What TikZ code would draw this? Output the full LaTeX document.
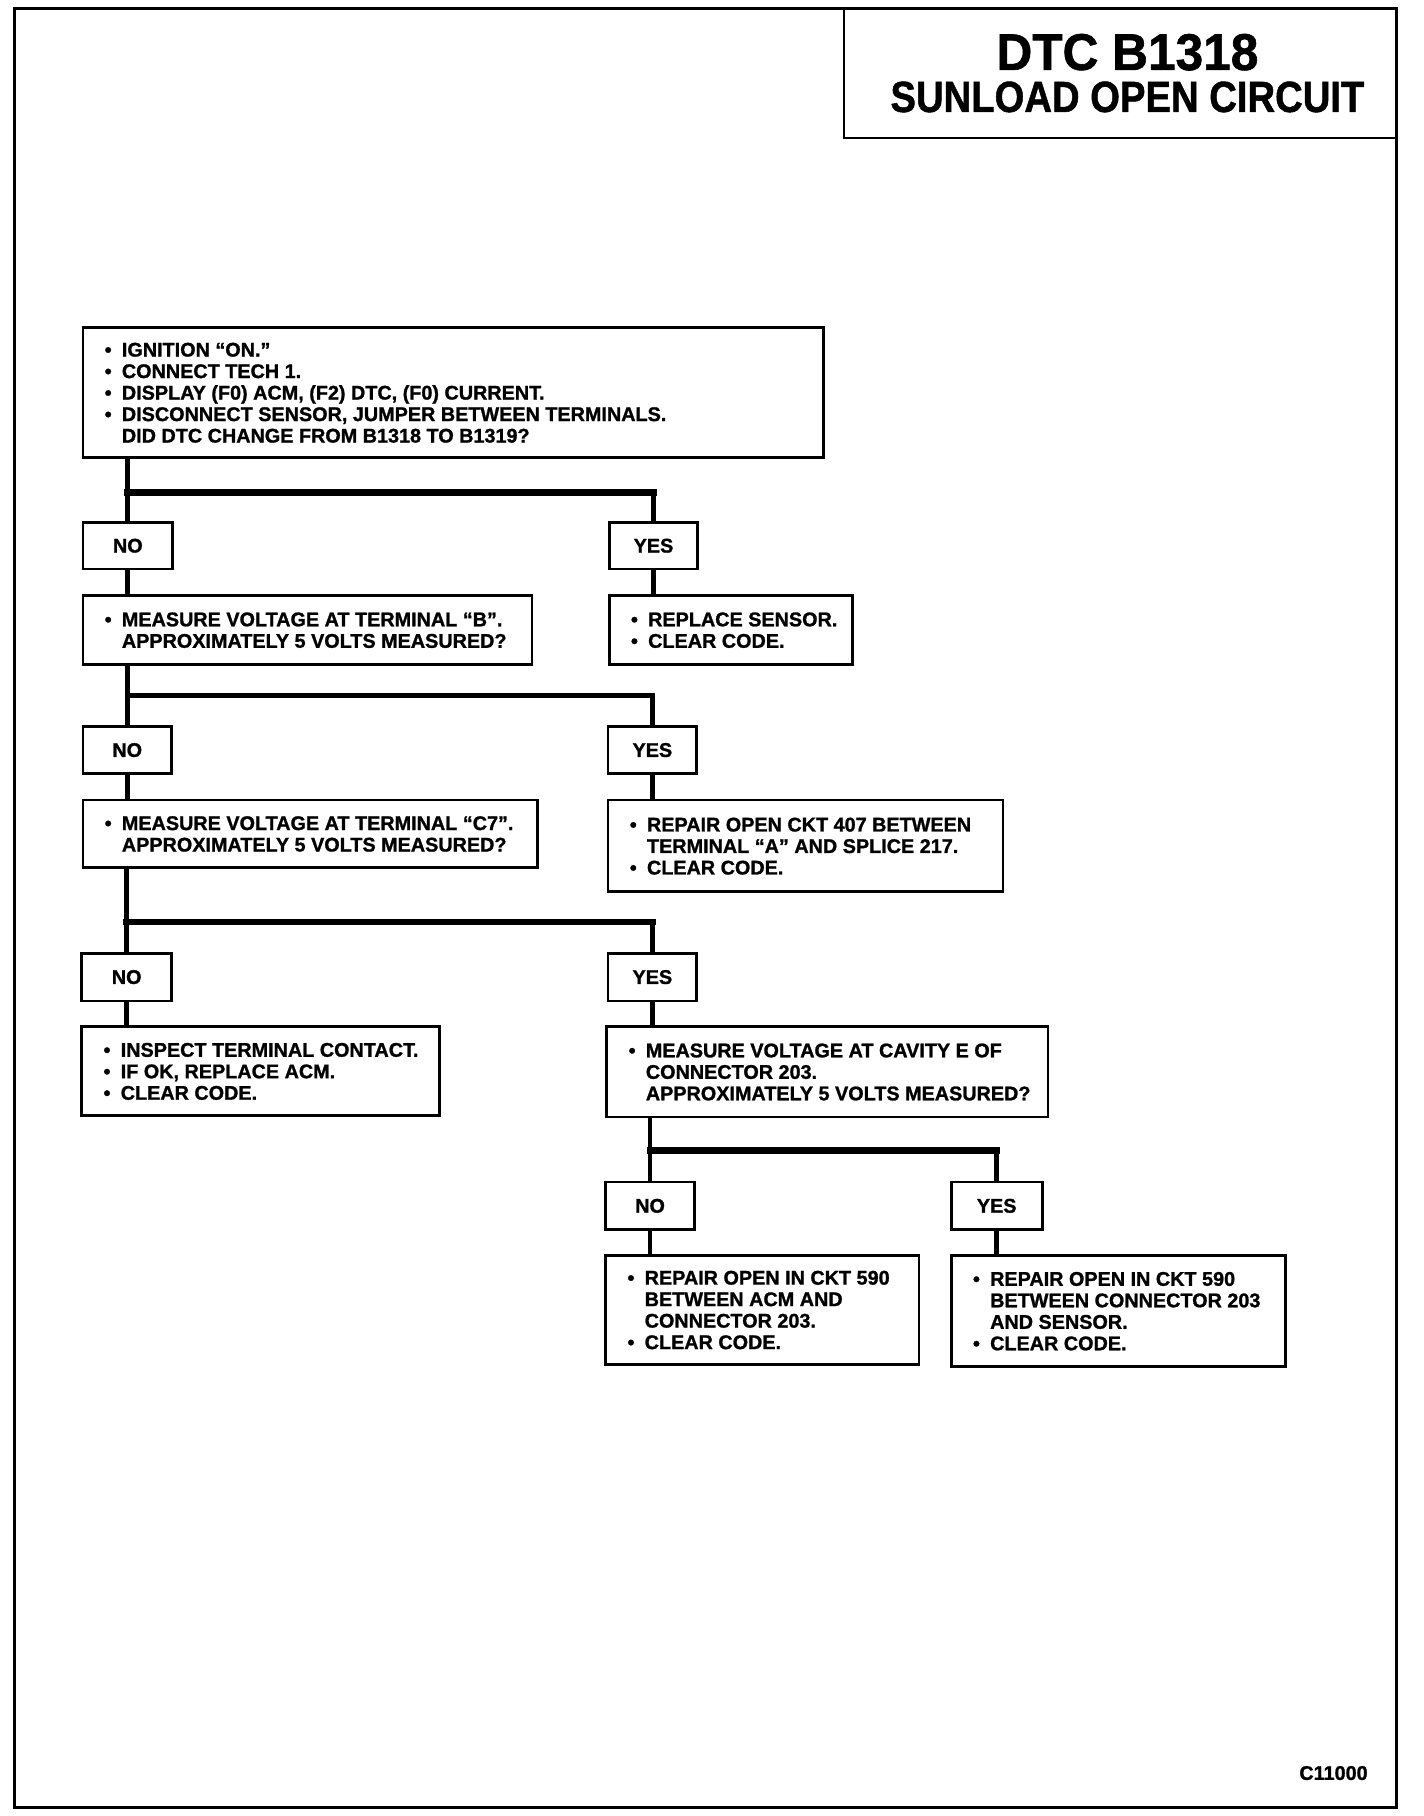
\documentclass[tikz,border=0pt]{standalone}
\usepackage{fontspec}
\setmainfont{Liberation Sans}[BoldFeatures={FakeBold=1.2}]
\usepackage{graphicx}
\newcommand\txtfont{\fontsize{9.9}{10.75}\selectfont\bfseries}
\newcommand\bl{\makebox[8.6pt][l]{•}}
\newcommand\ct{\hspace*{8.6pt}}
\tikzset{
  bx/.style n args={4}{minimum width={(#3-#1)*0.57585pt}, minimum height={(#4-#2)*0.58065pt}, at={({(#1+#3)/2},{(#2+#4)/2})}},
  box/.style={draw, line width=1.4pt, inner sep=0pt, font=\txtfont},
  conn/.style={line width=2.4pt},
  bar/.style={line cap=rect},
}
\newcommand\mybox[6]{%
  \pgfmathsetlengthmacro\mbw{(#4-#2)*0.57585pt-2*10.9pt}%
  \node[box, bx={#2}{#3}{#4}{#5}] (#1) {\raisebox{0pt}[\height][\dimexpr\depth-2.8pt\relax]{\makebox[\mbw][l]{\begin{tabular}{@{}l@{}}#6\end{tabular}}}};}
\begin{document}
\begin{tikzpicture}[x=0.57585pt, y=-0.58065pt]
\useasboundingbox (-1,0) rectangle (1235.4,1564);
% outer frame
\node[draw, line width=1.5pt, inner sep=0pt, bx={12}{7}{1212}{1557}] (frame) {};
% title
\node[draw, line width=1.3pt, inner sep=0pt, bx={732}{7}{1212}{119}] (title) {\vbox{\baselineskip=21pt\lineskiplimit=-\maxdimen\lineskip=0pt
  \hbox to 250pt{\hss\hskip 7pt\resizebox{131pt}{18pt}{\bfseries DTC B1318}\hss}
  \hbox to 250pt{\hss\hskip 7pt\resizebox{237pt}{15.2pt}{\bfseries SUNLOAD OPEN CIRCUIT}\hss}}};
% boxes
\mybox{q1}{71}{282}{714}{394}{\bl IGNITION “ON.”\\ \bl CONNECT TECH 1.\\ \bl DISPLAY (F0) ACM, (F2) DTC, (F0) CURRENT.\\ \bl DISCONNECT SENSOR, JUMPER BETWEEN TERMINALS.\\ \ct DID DTC CHANGE FROM B1318 TO B1319?}
\node[box, bx={71}{450}{149}{490}] (no1) {NO};
\node[box, bx={528}{450}{605}{490}] (yes1) {YES};
\mybox{q2}{71}{513}{461}{572}{\bl MEASURE VOLTAGE AT TERMINAL “B”.\\ \ct APPROXIMATELY 5 VOLTS MEASURED?}
\mybox{r1}{528}{513}{739}{572}{\bl REPLACE SENSOR.\\ \bl CLEAR CODE.}
\node[box, bx={71}{626}{148}{666}] (no2) {NO};
\node[box, bx={527}{626}{604}{666}] (yes2) {YES};
\mybox{q3}{71}{689}{466}{747}{\bl MEASURE VOLTAGE AT TERMINAL “C7”.\\ \ct APPROXIMATELY 5 VOLTS MEASURED?}
\mybox{r2}{527}{689}{870}{768}{\bl REPAIR OPEN CKT 407 BETWEEN\\ \ct TERMINAL “A” AND SPLICE 217.\\ \bl CLEAR CODE.}
\node[box, bx={70}{821}{148}{862}] (no3) {NO};
\node[box, bx={527}{821}{604}{862}] (yes3) {YES};
\mybox{r3}{70}{884}{381}{961}{\bl INSPECT TERMINAL CONTACT.\\ \bl IF OK, REPLACE ACM.\\ \bl CLEAR CODE.}
\mybox{q4}{526}{884}{909}{962}{\bl MEASURE VOLTAGE AT CAVITY E OF\\ \ct CONNECTOR 203.\\ \ct APPROXIMATELY 5 VOLTS MEASURED?}
\node[box, bx={525}{1018}{602}{1059}] (no4) {NO};
\node[box, bx={825}{1018}{904}{1059}] (yes4) {YES};
\mybox{r4}{525}{1081}{797}{1175}{\bl REPAIR OPEN IN CKT 590\\ \ct BETWEEN ACM AND\\ \ct CONNECTOR 203.\\ \bl CLEAR CODE.}
\mybox{r5}{825}{1081}{1115}{1177}{\bl REPAIR OPEN IN CKT 590\\ \ct BETWEEN CONNECTOR 203\\ \ct AND SENSOR.\\ \bl CLEAR CODE.}
\node[font=\txtfont] (code) at (1157,1527) {C11000};
% branch coordinates
\coordinate (b1) at (0,424);
\coordinate (b2) at (0,599);
\coordinate (b3) at (0,794);
\coordinate (b4) at (0,991);
% level 1
\draw[conn] (q1.south -| no1) -- (no1.north);
\draw[conn] (yes1.north) -- (yes1 |- b1);
\draw[bar, line width=3.6pt] (no1 |- b1) -- (yes1 |- b1);
\draw[conn] (no1.south) -- (no1 |- q2.north);
\draw[conn] (yes1.south) -- (yes1 |- r1.north);
% level 2
\draw[conn] (q2.south -| no2) -- (no2.north);
\draw[conn] (yes2.north) -- (yes2 |- b2);
\draw[bar, line width=2.2pt] (no2 |- b2) -- (yes2 |- b2);
\draw[conn] (no2.south) -- (no2 |- q3.north);
\draw[conn] (yes2.south) -- (yes2 |- r2.north);
% level 3
\draw[conn] (q3.south -| no3) -- (no3.north);
\draw[conn] (yes3.north) -- (yes3 |- b3);
\draw[bar, line width=3.2pt] (no3 |- b3) -- (yes3 |- b3);
\draw[conn] (no3.south) -- (no3 |- r3.north);
\draw[conn] (yes3.south) -- (yes3 |- q4.north);
% level 4
\draw[conn] (q4.south -| no4) -- (no4.north);
\draw[conn] (yes4.north) -- (yes4 |- b4);
\draw[bar, line width=3.2pt] (no4 |- b4) -- (yes4 |- b4);
\draw[conn] (no4.south) -- (no4 |- r4.north);
\draw[conn] (yes4.south) -- (yes4 |- r5.north);
\end{tikzpicture}
\end{document}
